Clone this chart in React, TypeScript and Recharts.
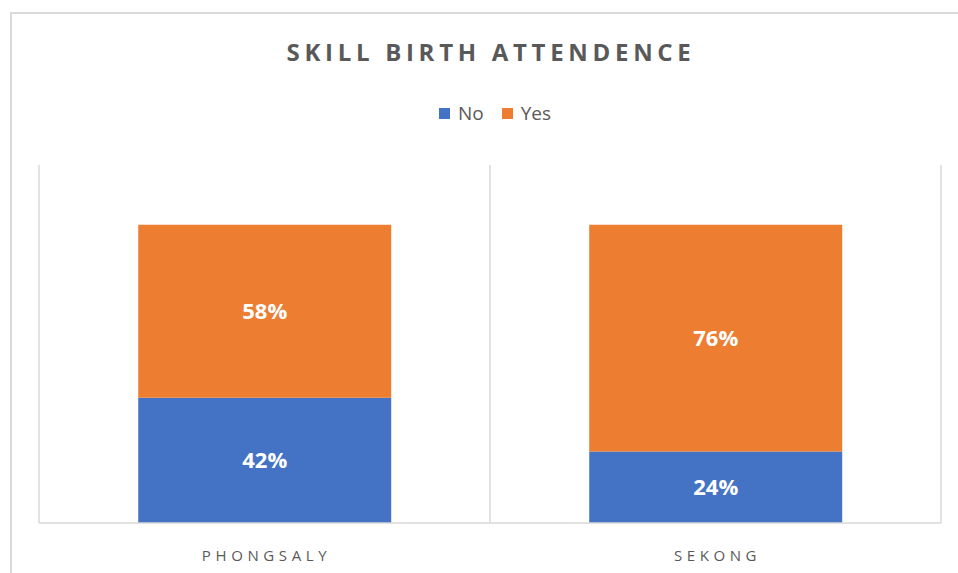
import { BarChart, Bar, XAxis, YAxis, CartesianGrid, Legend, LabelList } from 'recharts'

const regions = ['PHONGSALY', 'SEKONG']
const noValues = [42, 24]
const yesValues = [58, 76]

const data = regions.map((region, i) => ({ region, No: noValues[i], Yes: yesValues[i] }))

const FONT = '"Open Sans", sans-serif'
const GRAY = '#595959'
const LEGEND_H = 24

const renderTick = (props: any) => {
  const { x, y, payload } = props
  return (
    <text
      x={x + 2}
      y={y + 30}
      textAnchor="middle"
      fill={GRAY}
      fontSize={15}
      fontFamily={FONT}
      letterSpacing={4.6}
    >
      {payload.value}
    </text>
  )
}

const renderLegend = (props: any) => (
  <div
    style={{
      height: LEGEND_H,
      display: 'flex',
      justifyContent: 'center',
      alignItems: 'center',
      gap: 18,
      fontFamily: FONT,
      fontSize: 19,
      color: GRAY,
    }}
  >
    {props.payload.map((item: any) => (
      <span key={item.value} style={{ display: 'flex', alignItems: 'center' }}>
        <span style={{ width: 11, height: 11, background: item.color, marginRight: 8, display: 'inline-block' }} />
        {item.value}
      </span>
    ))}
  </div>
)

export default function App() {
  return (
    <div style={{ position: 'absolute', left: 0, top: 0, width: 958, height: 573, background: '#fff', overflow: 'hidden' }}>
      {/* chart frame */}
      <div
        style={{
          position: 'absolute',
          left: 10,
          top: 12,
          width: 970,
          height: 600,
          border: '2px solid #d9d9d9',
          boxSizing: 'border-box',
        }}
      />
      <div
        style={{
          position: 'absolute',
          left: 0,
          top: 35,
          width: 982,
          textAlign: 'center',
          fontFamily: FONT,
          fontWeight: 700,
          fontSize: 24,
          letterSpacing: 4.7,
          color: GRAY,
        }}
      >
        SKILL BIRTH ATTENDENCE
      </div>
      <div style={{ position: 'absolute', left: 0, top: 0 }}>
        <BarChart
          width={958}
          height={573}
          data={data}
          margin={{ top: 165 - LEGEND_H, right: 17, bottom: 0, left: 39 }}
          barCategoryGap="22%"
        >
          <CartesianGrid
            horizontal={false}
            stroke="#d9d9d9"
            strokeWidth={1.5}
            verticalCoordinatesGenerator={({ offset }: any) => [
              offset.left,
              offset.left + offset.width / 2,
              offset.left + offset.width,
            ]}
          />
          <XAxis
            dataKey="region"
            tickLine={false}
            axisLine={{ stroke: '#d9d9d9', strokeWidth: 1.5 }}
            tick={renderTick}
            height={50}
          />
          <YAxis hide domain={[0, 120]} />
          <Legend
            verticalAlign="top"
            content={renderLegend}
            wrapperStyle={{ position: 'absolute', top: 101, left: 0, width: 990 }}
          />
          <Bar dataKey="No" stackId="a" fill="#4472c4" isAnimationActive={false}>
            <LabelList
              dataKey="No"
              position="center"
              formatter={(v: any) => `${v}%`}
              fill="#fff"
              fontSize={22}
              fontWeight={700}
              fontFamily={FONT}
            />
          </Bar>
          <Bar dataKey="Yes" stackId="a" fill="#ed7d31" isAnimationActive={false}>
            <LabelList
              dataKey="Yes"
              position="center"
              formatter={(v: any) => `${v}%`}
              fill="#fff"
              fontSize={22}
              fontWeight={700}
              fontFamily={FONT}
            />
          </Bar>
        </BarChart>
      </div>
    </div>
  )
}
